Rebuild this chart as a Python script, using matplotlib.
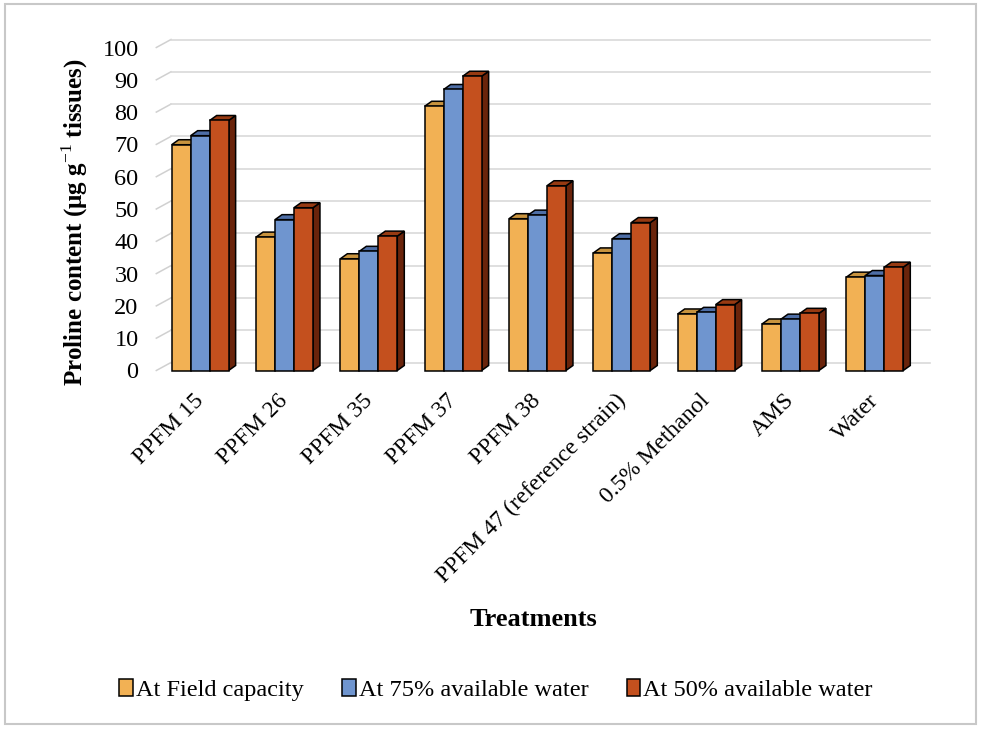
import numpy as np
import matplotlib.pyplot as plt
from matplotlib.patches import Polygon, Rectangle
from matplotlib.transforms import ScaledTranslation

treatments = ['PPFM 15', 'PPFM 26', 'PPFM 35', 'PPFM 37', 'PPFM 38',
              'PPFM 47 (reference strain)', '0.5% Methanol', 'AMS', 'Water']
field_capacity = [69.9, 41.3, 34.6, 81.8, 47.0, 36.4, 17.5, 14.4, 28.9]
water_75 = [72.7, 46.7, 36.9, 87.0, 48.1, 40.8, 18.0, 15.9, 29.4]
water_50 = [77.4, 50.4, 41.6, 91.1, 57.2, 45.8, 20.4, 17.7, 32.0]
series_names = ['At Field capacity', 'At 75% available water', 'At 50% available water']
yticks = list(range(0, 101, 10))

# front / top / side shades for each series
front_cols = ['#F2B154', '#6F95CF', '#C4501E']
top_cols = ['#C8933E', '#4E6EA6', '#973A12']
side_cols = ['#A97A2E', '#3D5688', '#6A240B']

plt.rcParams['font.family'] = ['Liberation Serif', 'DejaVu Serif']
plt.rcParams['mathtext.fontset'] = 'custom'
plt.rcParams['mathtext.rm'] = 'Liberation Serif'
plt.rcParams['mathtext.bf'] = 'Liberation Serif:bold'

W, H = 981, 729
fig = plt.figure(figsize=(W / 100, H / 100), dpi=100)
ax = fig.add_axes([158 / W, (H - 370.5) / H, (917 - 158) / W, 323 / H])
ax.set_xlim(-0.5, len(treatments) - 0.5)
ax.set_ylim(0, 100)

# pixel -> data unit conversion for the fake depth
pos = ax.get_position()
px_x = pos.width * W / len(treatments)
px_y = pos.height * H / 100.0
bar_dx, bar_dy = 7 / px_x, 5 / px_y
wall_dx, wall_dy = 13 / px_x, 8 / px_y

# back wall gridlines with the little diagonal on the side wall
x0, x1 = ax.get_xlim()
for v in yticks:
    ax.plot([x0 - 0.02, x0 + wall_dx], [v, v + wall_dy], color='#D0D0D0', lw=1.1,
            clip_on=False, zorder=0)
    ax.plot([x0 + wall_dx, x1 + wall_dx], [v + wall_dy, v + wall_dy], color='#D9D9D9',
            lw=1.2, clip_on=False, zorder=0)

x = np.arange(len(treatments))
w = 0.225
data = [field_capacity, water_75, water_50]
for s, vals in enumerate(data):
    bars = ax.bar(x + (s - 1) * w, vals, w, color=front_cols[s], edgecolor='black',
                  linewidth=1.1, label=series_names[s])
    for i, rect in enumerate(bars):
        z = 2 + i * 10 + s * 3
        rect.set_zorder(z + 2)
        rect.set_clip_on(False)
        bx, bw, bh = rect.get_x(), rect.get_width(), rect.get_height()
        side = Polygon([(bx + bw, 0), (bx + bw + bar_dx, bar_dy),
                        (bx + bw + bar_dx, bh + bar_dy), (bx + bw, bh)],
                       closed=True, facecolor=side_cols[s], edgecolor='black',
                       lw=1.1, zorder=z, clip_on=False)
        top = Polygon([(bx, bh), (bx + bar_dx, bh + bar_dy),
                       (bx + bw + bar_dx, bh + bar_dy), (bx + bw, bh)],
                      closed=True, facecolor=top_cols[s], edgecolor='black',
                      lw=1.1, zorder=z + 1, clip_on=False)
        ax.add_patch(side)
        ax.add_patch(top)

for sp in ax.spines.values():
    sp.set_visible(False)
ax.set_yticks(yticks)
ax.tick_params(axis='y', length=0, labelsize=17.5, pad=14)
ax.set_xticks(x)
ax.set_xticklabels(treatments, rotation=45, ha='right', va='top',
                   rotation_mode='anchor', fontsize=17)
ax.tick_params(axis='x', length=0, pad=14)
shift = ScaledTranslation(-7 / 100, 0, fig.dpi_scale_trans)
for lab in ax.get_xticklabels():
    lab.set_transform(lab.get_transform() + shift)

fig.text(75 / W, 1 - 222 / H, r'Proline content ($\mathbf{\mu}$g g$^{-1}$ tissues)',
         rotation=90, ha='center', va='center', fontsize=18, fontweight='bold')
fig.text(533 / W, 1 - 619 / H, 'Treatments', ha='center', va='center',
         fontsize=19, fontweight='bold')

handles = [Rectangle((0, 0), 1, 1, facecolor=c, edgecolor='black', lw=1.1)
           for c in front_cols]
fig.legend(handles, series_names, loc='center', bbox_to_anchor=(496 / W, 1 - 690 / H),
           ncol=3, frameon=False, fontsize=17.5, handlelength=0.55, handleheight=0.7,
           handletextpad=0.12, columnspacing=1.6)

# thin frame around the whole chart
fig.add_artist(Rectangle((5 / W, 1 - 724 / H), 971 / W, 720 / H,
                         transform=fig.transFigure, fill=False,
                         edgecolor='#C8C8C8', lw=1.5))

fig.savefig('out.png', dpi=100)
